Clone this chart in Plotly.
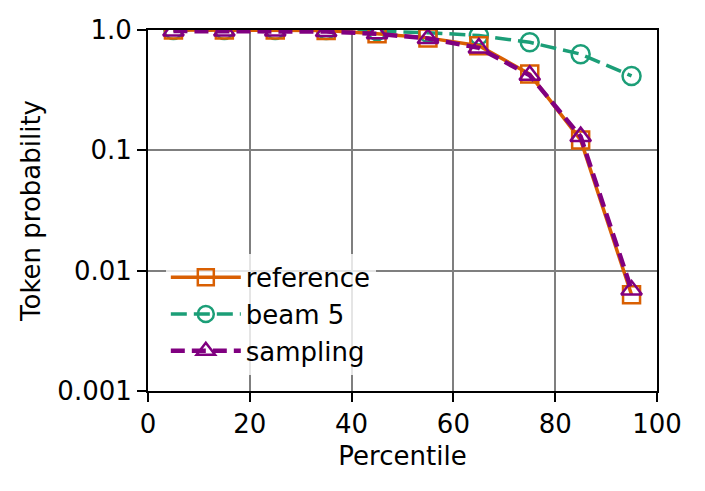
import plotly.graph_objects as go

# percentile buckets
percentile = [5, 15, 25, 35, 45, 55, 65, 75, 85, 95]

# token probability per bucket
reference = [1.0, 1.0, 1.0, 0.99, 0.93, 0.86, 0.74, 0.43, 0.122, 0.0063]
beam5 = [1.0, 1.0, 1.0, 1.0, 0.98, 0.95, 0.90, 0.79, 0.63, 0.415]
sampling = [0.98, 0.98, 0.98, 0.97, 0.93, 0.85, 0.71, 0.42, 0.13, 0.0069]

y_ticks = [0.001, 0.01, 0.1, 1.0]
y_ticktext = ["0.001", "0.01", "0.1", "1.0"]

ORANGE = "#d95f02"
GREEN = "#1b9e77"
PURPLE = "#800080"
FONT_SIZE = 26

fig = go.Figure()

# beam first so it sits underneath the other two
fig.add_trace(go.Scatter(
    x=percentile, y=beam5, name="beam 5", mode="lines+markers",
    line=dict(color=GREEN, width=3.5, dash="16px,7px"),
    marker=dict(symbol="circle-open", size=18, color=GREEN, line=dict(width=2.5)),
    legendrank=2,
))
fig.add_trace(go.Scatter(
    x=percentile, y=reference, name="reference", mode="lines+markers",
    line=dict(color=ORANGE, width=3.5),
    marker=dict(symbol="square-open", size=17, color=ORANGE, line=dict(width=2.5)),
    legendrank=1,
))
fig.add_trace(go.Scatter(
    x=percentile, y=sampling, name="sampling", mode="lines+markers",
    line=dict(color=PURPLE, width=4.5, dash="14px,7px"),
    marker=dict(symbol="triangle-up-open", size=18, color=PURPLE, line=dict(width=2.5)),
    legendrank=3,
))

axis_common = dict(
    showline=True, linecolor="black", linewidth=2, mirror=True,
    ticks="outside", ticklen=9, tickwidth=2, tickcolor="black",
    showgrid=True, gridcolor="#7f7f7f", gridwidth=2,
    zeroline=False, automargin=False,
    tickfont=dict(size=FONT_SIZE, color="black"),
)

# the page body adds 8px, so margins are offset by that
fig.update_layout(
    width=705, height=491,
    margin=dict(l=140, r=56, t=22, b=108),
    paper_bgcolor="white", plot_bgcolor="white",
    font=dict(family="DejaVu Sans", size=FONT_SIZE, color="black"),
    showlegend=True,
    legend=dict(
        x=0.035, y=0.045, xanchor="left", yanchor="bottom",
        bgcolor="rgba(255,255,255,0.8)", borderwidth=0,
        font=dict(size=FONT_SIZE), tracegroupgap=0, itemwidth=70,
    ),
    xaxis=dict(
        range=[0, 100], tickvals=[0, 20, 40, 60, 80, 100],
        title=dict(text="Percentile", font=dict(size=FONT_SIZE), standoff=9),
        **axis_common,
    ),
    yaxis=dict(
        type="log", range=[-3, 0],
        tickvals=y_ticks, ticktext=y_ticktext,
        title=dict(text="Token probability", font=dict(size=FONT_SIZE), standoff=9),
        **axis_common,
    ),
)

fig.write_html("out.html")
